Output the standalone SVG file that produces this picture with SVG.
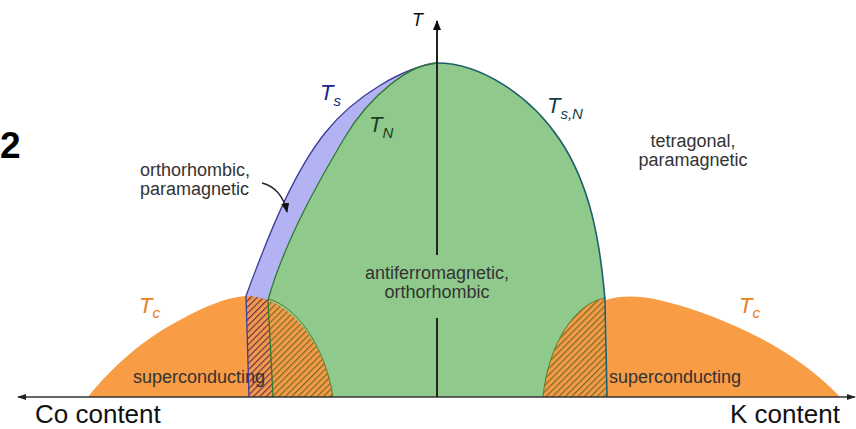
<svg xmlns="http://www.w3.org/2000/svg" width="856" height="429" viewBox="0 0 856 429">
<defs>
<style>
.lbl{font-family:"Liberation Sans",Arial,sans-serif;font-size:18px;fill:#333}
.big{font-family:"Liberation Sans",Arial,sans-serif;font-size:26px;fill:#111}
.it{font-family:"Liberation Sans",Arial,sans-serif;font-style:italic}
.ax{stroke:#333;stroke-width:1.5;fill:none}
</style>
<marker id="ah" viewBox="0 0 10 10" refX="9" refY="5" markerWidth="9" markerHeight="9" orient="auto-start-reverse" markerUnits="userSpaceOnUse">
<path d="M0,1.5 L10,5 L0,8.5 Z" fill="#222"/>
</marker>
<marker id="ah2" viewBox="0 0 10 10" refX="9" refY="5" markerWidth="10" markerHeight="10" orient="auto" markerUnits="userSpaceOnUse">
<path d="M0,1 L10,5 L0,9 Z" fill="#111"/>
</marker>
<pattern id="hatchP" width="4.5" height="10" patternUnits="userSpaceOnUse" patternTransform="rotate(45)">
<rect width="4.5" height="10" fill="#f59a48"/>
<line x1="0.6" y1="0" x2="0.6" y2="10" stroke="#5a2d55" stroke-width="1.1"/>
</pattern>
<pattern id="hatchG" width="4.5" height="10" patternUnits="userSpaceOnUse" patternTransform="rotate(45)">
<rect width="4.5" height="10" fill="#f59a48"/>
<line x1="0.6" y1="0" x2="0.6" y2="10" stroke="#6f6a1e" stroke-width="1.1"/>
</pattern>
<clipPath id="clipBlue">
<path d="M437,63 C405,67 355,95 325,133 S272,225 246,296 L249,397 L273,397 L268,300 C285,240 320,179 345,137 C370,95 410,64 437,63 Z"/>
</clipPath>
<clipPath id="clipGreen">
<path d="M437,63 C410,64 370,95 345,137 C320,179 285,240 268,300 L273,397 L607,397 L605,300 C600,240 590,185 560,140 C530,95 480,63 437,63 Z"/>
</clipPath>
</defs>
<rect width="856" height="429" fill="#fff"/>

<g id="orthorhombic-paramagnetic-region">
<path d="M437,63 C405,67 355,95 325,133 S272,225 246,296 L249,397 L273,397 L268,300 C285,240 320,179 345,137 C370,95 410,64 437,63 Z" fill="#b3b3f4"/>
</g>
<g id="antiferromagnetic-region">
<path d="M437,63 C410,64 370,95 345,137 C320,179 285,240 268,300 L273,397 L607,397 L605,300 C600,240 590,185 560,140 C530,95 480,63 437,63 Z" fill="#8fca8c"/>
</g>
<g id="superconducting-left">
<path d="M88,397 C105,375 140,340 180,320 C205,306 228,297 246,296 L249,397 Z" fill="#f89c45"/>
<g clip-path="url(#clipBlue)"><path d="M246,296 C290,296 325,345 333,397 L249,397 Z" fill="url(#hatchP)"/></g>
<g clip-path="url(#clipGreen)"><path d="M246,296 C290,296 325,345 333,397 L249,397 Z" fill="url(#hatchG)"/></g>
<path d="M268,299 C295,305 325,345 333,397" fill="none" stroke="#5f7a2a" stroke-width="1"/>
</g>
<g id="superconducting-right">
<path d="M607,397 L606,300 C630,292 660,298 700,312 C750,330 800,355 840,397 Z" fill="#f89c45"/>
<g clip-path="url(#clipGreen)"><path d="M543,397 C548,345 575,302 606,298 L607,397 Z" fill="url(#hatchG)"/></g>
<path d="M543,397 C548,345 575,302 606,298" fill="none" stroke="#5f7a2a" stroke-width="1"/>
</g>

<g id="connectors">
<path d="M437,63 C405,67 355,95 325,133 S272,225 246,296 L249,397" fill="none" stroke="#3b3b9a" stroke-width="1.3"/>
<path d="M437,63 C410,64 370,95 345,137 C320,179 285,240 268,300 L273,397" fill="none" stroke="#2f7a2f" stroke-width="1.3"/>
<path d="M437,63 C480,63 530,95 560,140 C590,185 600,240 605,300 L607,397" fill="none" stroke="#1d5f6b" stroke-width="1.6"/>
<line class="ax" x1="18" y1="397" x2="855" y2="397" marker-start="url(#ah)" marker-end="url(#ah)"/>
<line x1="437" y1="397" x2="437" y2="318" stroke="#222" stroke-width="2"/>
<line x1="437" y1="255" x2="437" y2="21" stroke="#222" stroke-width="2" marker-end="url(#ah2)"/>
<path d="M262,183 C275,186 284,197 287,212" fill="none" stroke="#222" stroke-width="1.3" marker-end="url(#ah2)"/>
</g>

<g id="labels">
<text x="0" y="158" font-family="Liberation Sans, Arial, sans-serif" font-size="37" font-weight="bold" fill="#000">2</text>
<text class="it" x="412" y="26" font-size="18" fill="#111">T</text>
<text class="it" x="320" y="100" font-size="22" fill="#22228a">T<tspan font-size="15" dy="6">s</tspan></text>
<text class="it" x="369" y="132" font-size="22" fill="#1e3d1e">T<tspan font-size="15" dy="6">N</tspan></text>
<text class="it" x="547" y="113" font-size="22" fill="#123f48">T<tspan font-size="15" dy="6">s,N</tspan></text>
<text class="it" x="139" y="313" font-size="22" fill="#e8801e">T<tspan font-size="15" dy="5">c</tspan></text>
<text class="it" x="739" y="313" font-size="22" fill="#e8801e">T<tspan font-size="15" dy="5">c</tspan></text>
<text class="lbl" x="693" y="147" text-anchor="middle">tetragonal,</text>
<text class="lbl" x="693" y="166" text-anchor="middle">paramagnetic</text>
<text class="lbl" x="140" y="176">orthorhombic,</text>
<text class="lbl" x="140" y="195">paramagnetic</text>
<text class="lbl" x="437" y="279" text-anchor="middle">antiferromagnetic,</text>
<text class="lbl" x="437" y="298" text-anchor="middle">orthorhombic</text>
<text class="lbl" x="133" y="383" font-size="19">superconducting</text>
<text class="lbl" x="609" y="383" font-size="19">superconducting</text>
<text class="big" x="35" y="423">Co content</text>
<text class="big" x="730" y="423">K content</text>
</g>
</svg>
